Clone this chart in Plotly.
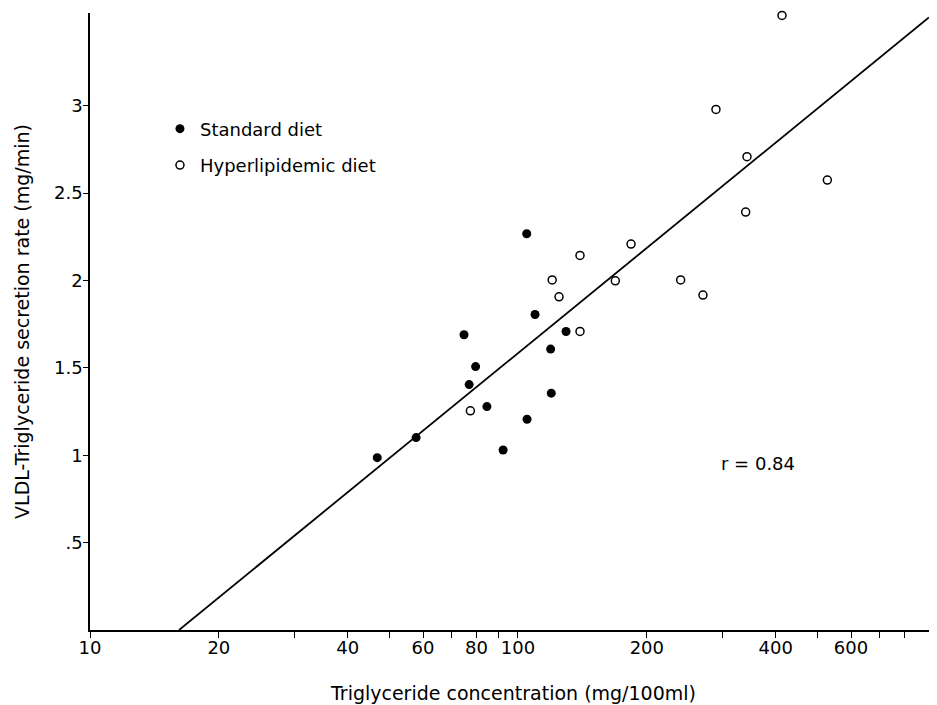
import numpy as np
import plotly.graph_objects as go

# Standard diet (filled circles)
std_x = [46.9, 57.8, 74.8, 76.9, 79.6, 84.6, 92.3, 104.8, 105.0, 109.6, 119.2, 119.6, 129.5]
std_y = [0.986, 1.101, 1.689, 1.404, 1.507, 1.278, 1.030, 2.267, 1.206, 1.805, 1.607, 1.355, 1.708]

# Hyperlipidemic diet (open circles)
hyp_x = [77.4, 120.2, 124.7, 139.6, 139.6, 168.8, 183.7, 239.9, 270.5, 290.1, 342.8, 340.4, 528.2, 413.9]
hyp_y = [1.254, 2.003, 1.906, 2.143, 1.708, 1.998, 2.208, 2.003, 1.916, 2.978, 2.708, 2.391, 2.574, 3.516]

# Regression line y = a + b*log10(x)
fit_intercept = -2.416
fit_slope = 2.0
fit_x_span = [16.15, 912.0]
r_text = "r = 0.84"

x_tickvals = [10, 20, 30, 40, 50, 60, 70, 80, 90, 100, 200, 300, 400, 500, 600, 700, 800]
x_ticktext = ["10", "20", "", "40", "", "60", "", "80", "", "100", "200", "", "400", "", "600", "", ""]
y_tickvals = [0.5, 1, 1.5, 2, 2.5, 3]
y_ticktext = [".5", "1", "1.5", "2", "2.5", "3"]

FONT = "DejaVu Sans"

fig = go.Figure()

fx = np.array(fit_x_span)
fy = fit_intercept + fit_slope * np.log10(fx)
fig.add_trace(go.Scatter(x=fx, y=fy, mode="lines", line=dict(color="black", width=1.8),
                         showlegend=False, hoverinfo="skip", cliponaxis=False))

fig.add_trace(go.Scatter(x=std_x, y=std_y, mode="markers", name="Standard diet",
                         legendgroup="a",
                         marker=dict(symbol="circle", size=9, color="black",
                                     line=dict(width=0)), cliponaxis=False))
fig.add_trace(go.Scatter(x=hyp_x, y=hyp_y, mode="markers", name="Hyperlipidemic diet",
                         legendgroup="b",
                         marker=dict(symbol="circle-open", size=8, color="black",
                                     line=dict(width=1.5, color="black")), cliponaxis=False))

fig.add_annotation(x=np.log10(364), y=0.95, xref="x", yref="y", text=r_text,
                   showarrow=False, font=dict(family=FONT, size=18, color="black"))

fig.update_layout(
    width=929, height=697,
    margin=dict(l=82, r=0, t=5, b=75),
    paper_bgcolor="white", plot_bgcolor="white",
    font=dict(family=FONT, size=18, color="black"),
    showlegend=True,
    legend=dict(x=0.0826, y=0.842, xanchor="left", yanchor="top",
                bgcolor="rgba(0,0,0,0)", font=dict(family=FONT, size=18, color="black"),
                tracegroupgap=10, traceorder="grouped", itemwidth=30),
    xaxis=dict(type="log", range=[1, 2.979], showgrid=False, zeroline=False,
               showline=True, linecolor="black", linewidth=1.5,
               ticks="outside", ticklen=6, tickwidth=1.2, tickcolor="black",
               tickvals=x_tickvals, ticktext=x_ticktext, ticklabelstandoff=-5,
               tickfont=dict(family=FONT, size=18),
               title=dict(text="Triglyceride concentration (mg/100ml)",
                          font=dict(family=FONT, size=19), standoff=29)),
    yaxis=dict(range=[0, 3.53], showgrid=False, zeroline=False,
               showline=True, linecolor="black", linewidth=1.5,
               ticks="outside", ticklen=5, tickwidth=1.2, tickcolor="black",
               tickvals=y_tickvals, ticktext=y_ticktext, ticklabelstandoff=-3,
               tickfont=dict(family=FONT, size=18),
               title=dict(text="VLDL-Triglyceride secretion rate (mg/min)",
                          font=dict(family=FONT, size=19), standoff=19)),
)

fig.write_html("out.html")
